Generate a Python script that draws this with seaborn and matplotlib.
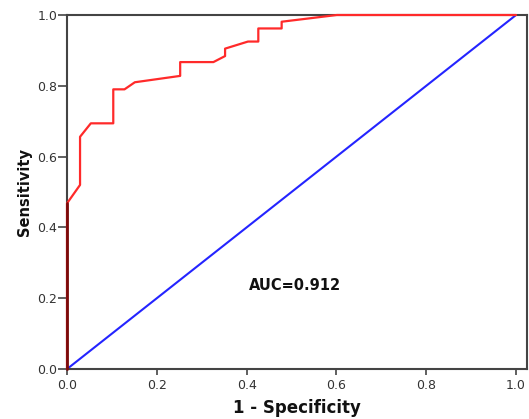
import matplotlib
matplotlib.use("Agg")
import matplotlib.pyplot as plt
import seaborn as sns
import pandas as pd

# ROC curve points
fpr = [0.0, 0.0, 0.029, 0.029, 0.053, 0.103, 0.103, 0.128, 0.151, 0.252, 0.252,
       0.326, 0.352, 0.352, 0.403, 0.426, 0.426, 0.478, 0.478, 0.601, 1.0]
tpr = [0.0, 0.468, 0.520, 0.656, 0.694, 0.694, 0.790, 0.790, 0.810, 0.828, 0.867,
       0.867, 0.884, 0.905, 0.925, 0.925, 0.962, 0.962, 0.981, 1.0, 1.0]
ref_x = [0.0, 1.0]
ref_y = [0.0, 1.0]
ticks = [0.0, 0.2, 0.4, 0.6, 0.8, 1.0]
tick_labels = ["0.0", "0.2", "0.4", "0.6", "0.8", "1.0"]
auc_text = "AUC=0.912"

sns.set_style("white")
plt.rcParams["font.family"] = ["DejaVu Sans"]

fig = plt.figure(figsize=(5.29, 4.19), dpi=100)
ax = fig.add_axes([0.1267, 0.1193, 0.8696, 0.8449])

roc = pd.DataFrame({"fpr": fpr, "tpr": tpr})
diag = pd.DataFrame({"x": ref_x, "y": ref_y})

sns.lineplot(data=diag, x="x", y="y", ax=ax, color="#2424ff", linewidth=1.5,
             sort=False, estimator=None)
sns.lineplot(data=roc, x="fpr", y="tpr", ax=ax, color="#ff2a2a", linewidth=1.6,
             sort=False, estimator=None, clip_on=False, zorder=5)
# portion overlapping the left axis appears dark red
ax.plot(fpr[:2], tpr[:2], color="#7a0a0a", linewidth=2.0, clip_on=False, zorder=6)

ax.set_xlim(0, 1.0245)
ax.set_ylim(0, 1.0)
ax.set_xticks(ticks)
ax.set_xticklabels(tick_labels)
ax.set_yticks(ticks)
ax.set_yticklabels(tick_labels)
ax.tick_params(axis="both", direction="out", width=1.2, color="#444444",
               labelsize=9, labelcolor="#333333")
ax.tick_params(axis="x", bottom=True, length=4.5, pad=2.5)
ax.tick_params(axis="y", left=True, length=6.5, pad=0.5)

for s in ax.spines.values():
    s.set_color("#444444")
    s.set_linewidth(1.5)

ax.set_xlabel("1 - Specificity", fontsize=12, fontweight="bold", labelpad=5.5,
              color="#111111")
ax.set_ylabel("Sensitivity", fontsize=10.5, fontweight="bold", labelpad=4,
              color="#111111")

ax.text(0.508, 0.237, auc_text, fontsize=10.5, fontweight="bold",
        ha="center", va="center", color="#111111")

fig.savefig("out.png", dpi=100)
